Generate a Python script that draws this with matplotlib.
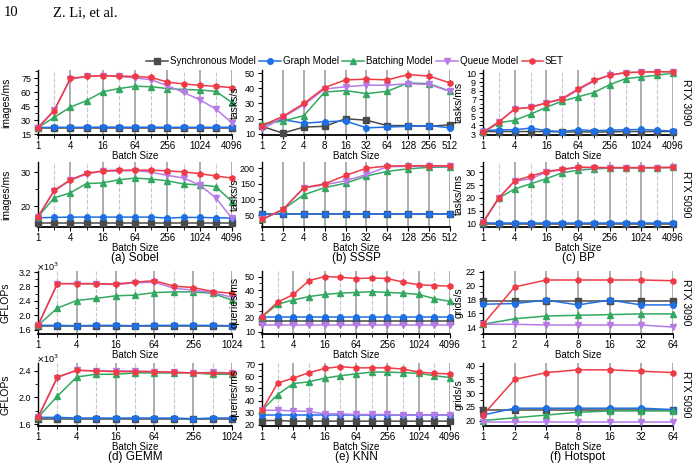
import matplotlib
matplotlib.use('Agg')
import matplotlib.pyplot as plt
from matplotlib.ticker import AutoMinorLocator, NullFormatter, FuncFormatter

plt.rcParams['font.family'] = ['Liberation Sans', 'DejaVu Sans']
plt.rcParams['font.size'] = 7

# --- data ---------------------------------------------------------------
models = ['Synchronous Model', 'Graph Model', 'Batching Model', 'Queue Model', 'SET']

batch_4096 = [1, 2, 4, 8, 16, 32, 64, 128, 256, 512, 1024, 2048, 4096]
batch_512 = [1, 2, 4, 8, 16, 32, 64, 128, 256, 512]
batch_1024 = [1, 2, 4, 8, 16, 32, 64, 128, 256, 512, 1024]
batch_64 = [1, 2, 4, 8, 16, 32, 64]

# (a) Sobel
sobel_3090 = {
    'Synchronous Model': [21.5] * 13,
    'Graph Model': [22, 22.3, 22.3, 22.3, 22.5, 22.5, 22.3, 22.5, 22.3, 22.3, 22.3, 22.3, 22.3],
    'Batching Model': [22, 33, 44, 51, 60.5, 64, 66.5, 66, 64, 63, 62.5, 61, 49],
    'Queue Model': [22, 41, 74, 77, 78, 77, 75.5, 73.5, 67, 60, 52, 42, 27],
    'SET': [22, 40, 75, 77, 78, 77.5, 77, 76, 71, 69, 67.5, 66.5, 65],
}
sobel_5090 = {
    'Synchronous Model': [15.3] * 13,
    'Graph Model': [16.7, 16.8, 16.9, 16.9, 16.9, 16.9, 16.9, 16.9, 16.6, 16.8, 16.8, 16.7, 16.6],
    'Batching Model': [17, 22.5, 24.0, 26.7, 26.9, 27.8, 28.3, 28.0, 27.5, 26.6, 26.3, 25.8, 21.4],
    'Queue Model': [17, 24.5, 27.6, 29.5, 30.3, 30.4, 30.5, 30.0, 29.1, 28.3, 26.3, 22.5, 16.5],
    'SET': [17, 24.7, 27.8, 29.7, 30.4, 30.6, 30.6, 30.6, 30.4, 30.1, 29.6, 28.9, 28.3],
}
# (b) SSSP
sssp_3090 = {
    'Synchronous Model': [15, 10.5, 14.5, 15, 20, 19, 15.5, 15.5, 15, 16],
    'Graph Model': [15.5, 19.5, 17, 18, 18.5, 14, 14.5, 15, 15.5, 14],
    'Batching Model': [16.5, 18.5, 22, 37.5, 38.5, 36.5, 38, 43.5, 43, 38],
    'Queue Model': [13, 21, 29, 39.5, 41, 42, 42, 43, 42.5, 38],
    'SET': [15.5, 21.5, 30, 40.5, 45.5, 46, 45.5, 49, 48, 43.5],
}
sssp_5090 = {
    'Synchronous Model': [54] * 10,
    'Graph Model': [55] * 10,
    'Batching Model': [36, 68, 115, 138, 152, 175, 190, 198, 203, 204],
    'Queue Model': [36, 67, 137, 147, 160, 180, 205, 206, 206, 206],
    'SET': [36, 68, 138, 150, 177, 200, 207, 208, 208, 208],
}
# (c) BP
bp_3090 = {
    'Synchronous Model': [3.3, 3.3, 3.3, 3.3, 3.3, 3.25, 3.25, 3.25, 3.25, 3.3, 3.3, 3.3, 3.3],
    'Graph Model': [3.4, 3.5, 3.5, 3.7, 3.4, 3.3, 3.5, 3.4, 3.45, 3.5, 3.55, 3.45, 3.35],
    'Batching Model': [3.2, 4.3, 4.6, 5.3, 6.1, 6.8, 7.3, 7.8, 8.7, 9.4, 9.6, 9.8, 10.05],
    'Queue Model': [3.2, 4.4, 5.9, 6.1, 6.6, 7.0, 8.1, 9.1, 9.8, 10.1, 10.15, 10.2, 10.2],
    'SET': [3.2, 4.4, 5.9, 6.1, 6.6, 7.1, 8.2, 9.2, 9.8, 10.1, 10.15, 10.2, 10.2],
}
bp_5090 = {
    'Synchronous Model': [10.0] * 13,
    'Graph Model': [10.3] * 13,
    'Batching Model': [10.5, 20, 23.5, 25.5, 27.5, 29.8, 30.8, 31.3, 31.6, 31.7, 31.7, 31.8, 31.9],
    'Queue Model': [10.5, 20, 26.5, 27.5, 30.0, 31.0, 31.8, 31.8, 31.8, 31.8, 31.8, 31.8, 31.9],
    'SET': [10.5, 20, 26.7, 28.5, 30.3, 31.2, 32.0, 31.9, 31.8, 31.8, 31.8, 31.8, 31.9],
}
# (d) GEMM (GFLOPs)
gemm_3090 = {
    'Synchronous Model': [1700] * 11,
    'Graph Model': [1720, 1720, 1710, 1720, 1720, 1710, 1720, 1720, 1720, 1720, 1710],
    'Batching Model': [1720, 2200, 2410, 2470, 2540, 2560, 2630, 2650, 2650, 2610, 2420],
    'Queue Model': [1720, 2880, 2870, 2870, 2850, 2900, 2920, 2750, 2700, 2630, 2500],
    'SET': [1720, 2880, 2880, 2880, 2870, 2920, 2960, 2810, 2770, 2660, 2610],
}
gemm_5090 = {
    'Synchronous Model': [1680] * 11,
    'Graph Model': [1700, 1700, 1690, 1690, 1690, 1690, 1690, 1690, 1680, 1690, 1690],
    'Batching Model': [1700, 2020, 2310, 2350, 2350, 2370, 2370, 2370, 2370, 2350, 2350],
    'Queue Model': [1700, 2300, 2410, 2400, 2400, 2400, 2390, 2380, 2370, 2380, 2370],
    'SET': [1700, 2310, 2410, 2400, 2390, 2390, 2390, 2380, 2370, 2370, 2370],
}
# (e) KNN
knn_3090 = {
    'Synchronous Model': [17.5] * 13,
    'Graph Model': [20.5] * 13,
    'Batching Model': [21, 30, 33, 35.5, 37, 38, 38.5, 39, 38.5, 38, 37, 34, 32],
    'Queue Model': [14.8] * 13,
    'SET': [21, 31.5, 37, 47, 50, 49.5, 48.5, 49, 48.5, 46, 44, 43.5, 43],
}
knn_5090 = {
    'Synchronous Model': [23.5, 23.5, 23, 23, 23, 23, 23, 23, 23, 23, 23, 23, 23],
    'Graph Model': [28] * 13,
    'Batching Model': [32, 45, 54, 55.5, 58.5, 60.5, 62, 63.5, 63.5, 63, 62.5, 60.5, 59],
    'Queue Model': [32, 32, 31.5, 31, 29, 29, 28.5, 28.5, 28.5, 28, 28, 28, 28],
    'SET': [32, 54.5, 58.5, 63, 66.5, 68, 67, 67, 67, 66, 63.5, 62.5, 62],
}
# (f) Hotspot
hotspot_3090 = {
    'Synchronous Model': [17.8] * 7,
    'Graph Model': [17.3, 17.4, 17.9, 17.2, 17.9, 17.2, 17.2],
    'Batching Model': [14.4, 15.2, 15.6, 15.7, 15.8, 15.9, 15.9],
    'Queue Model': [14.4, 14.4, 14.3, 14.3, 14.3, 14.3, 14.0],
    'SET': [14.4, 19.8, 20.8, 20.8, 20.8, 20.8, 20.7],
}
hotspot_5090 = {
    'Synchronous Model': [24] * 7,
    'Graph Model': [22, 24.5, 24.5, 24.5, 24.5, 24.5, 24],
    'Batching Model': [20, 21, 22, 23, 23.5, 23.5, 23.5],
    'Queue Model': [19.5] * 7,
    'SET': [22, 35, 37.5, 38.5, 38.5, 38, 37.5],
}

colors = {'Synchronous Model': '#4a4a4a', 'Graph Model': '#1f6fe5',
          'Batching Model': '#33a860', 'Queue Model': '#b77be6', 'SET': '#ef3b45'}
markers = {'Synchronous Model': 's', 'Graph Model': 'o', 'Batching Model': '^',
           'Queue Model': 'v', 'SET': 'h'}

ticks_pow4 = [1, 4, 16, 64, 256, 1024, 4096]
# panel settings: data, x, ylabel, ylim, yticks, labelled x ticks
panels = [
    [(sobel_3090, batch_4096, 'images/ms', (14, 84), [15, 30, 45, 60, 75], ticks_pow4),
     (sssp_3090, batch_512, 'tasks/s', (9.3, 52), [10, 20, 30, 40, 50], batch_512),
     (bp_3090, batch_4096, 'tasks/ms', (2.9, 10.4), [3, 4, 5, 6, 7, 8, 9, 10], ticks_pow4)],
    [(sobel_5090, batch_4096, 'images/ms', (14, 33), [20, 30], ticks_pow4),
     (sssp_5090, batch_512, 'tasks/s', (12, 220), [50, 100, 150, 200], batch_512),
     (bp_5090, batch_4096, 'tasks/ms', (8.7, 34), [10, 15, 20, 25, 30], ticks_pow4)],
    [(gemm_3090, batch_1024, 'GFLOPs', (1480, 3230), [1600, 2000, 2400, 2800, 3200], ticks_pow4[:6]),
     (knn_3090, batch_4096, 'queries/ms', (8.4, 54), [10, 20, 30, 40, 50], ticks_pow4),
     (hotspot_3090, batch_64, 'grids/s', (13.0, 22.1), [14, 16, 18, 20, 22], batch_64)],
    [(gemm_5090, batch_1024, 'GFLOPs', (1570, 2520), [1600, 2000, 2400], ticks_pow4[:6]),
     (knn_5090, batch_4096, 'queries/ms', (19, 71), [20, 30, 40, 50, 60, 70], ticks_pow4),
     (hotspot_5090, batch_64, 'grids/s', (18, 41), [20, 25, 30, 35, 40], batch_64)],
]
captions = ['(a) Sobel', '(b) SSSP', '(c) BP', '(d) GEMM', '(e) KNN', '(f) Hotspot']
gpus = ['RTX 3090', 'RTX 5090', 'RTX 3090', 'RTX 5090']

# --- layout (pixels) ------------------------------------------------------
W, H = 696, 466
cols_px = [(38, 232), (262, 450), (483, 673)]
rows_px = [(70, 135), (162, 227), (271, 334), (363, 426)]
ylabel_right_px = [11, 240, 464]

fig = plt.figure(figsize=(W / 100, H / 100), dpi=100)

fig.text(4 / W, 1 - 13 / H, '10', family='Liberation Serif', fontsize=10.5, va='center')
fig.text(53 / W, 1 - 13 / H, 'Z. Li, et al.', family='Liberation Serif', fontsize=10.5, va='center')

axes = []
for r, row in enumerate(panels):
    y0, y1 = rows_px[r]
    for c, (data, xs, ylab, ylim, yticks, xlab_ticks) in enumerate(row):
        x0, x1 = cols_px[c]
        ax = fig.add_axes([x0 / W, 1 - y1 / H, (x1 - x0) / W, (y1 - y0) / H])
        axes.append(ax)
        for m in models:
            ax.plot(xs, data[m], color=colors[m], marker=markers[m], markersize=4,
                    lw=1.1, clip_on=False, zorder=3, label=m)
        ax.set_xscale('log', base=2)
        ax.set_xlim(xs[0], xs[-1])
        ax.set_xticks(xlab_ticks)
        ax.set_xticklabels([str(v) for v in xlab_ticks])
        minor = [v for v in xs if v not in xlab_ticks]
        ax.set_xticks(minor, minor=True)
        ax.xaxis.set_minor_formatter(NullFormatter())
        ax.xaxis.grid(True, which='major', color='#a0a0a0', lw=1.2, zorder=0)
        ax.xaxis.grid(True, which='minor', color='#c8c8c8', lw=0.8, ls='--', zorder=0)
        ax.set_ylim(*ylim)
        ax.set_yticks(yticks)
        ax.yaxis.set_minor_locator(AutoMinorLocator(2))
        if ylab == 'GFLOPs':
            ax.yaxis.set_major_formatter(FuncFormatter(lambda v, _: f'{v / 1000:.1f}'))
            fig.text((x0 + 10) / W, 1 - (y0 - 4) / H, r'$\times$10$^3$', fontsize=6.5,
                     ha='center', va='center')
        ax.set_ylabel(ylab, fontsize=7.5)
        ax.yaxis.set_label_coords((ylabel_right_px[c] - x0) / (x1 - x0), 0.5)
        ax.set_xlabel('Batch Size', labelpad=-0.5, fontsize=7)
        for s in ['top', 'right']:
            ax.spines[s].set_visible(False)
        ax.spines['left'].set_linewidth(1.0)
        ax.spines['bottom'].set_linewidth(1.3)
        ax.tick_params(axis='both', which='major', length=3, width=0.8, pad=2, labelsize=6.5)
        ax.tick_params(axis='x', which='major', pad=1.5, labelsize=7)
        ax.tick_params(axis='both', which='minor', length=2, width=0.6)
        if c == 2:
            fig.text(686 / W, 1 - (y0 + y1) / 2 / H, gpus[r], rotation=270,
                     va='center', ha='center', fontsize=7.5)
        if r in (1, 3):
            fig.text((x0 + x1) / 2 / W, 1 - (y1 + 31) / H, captions[(r // 2) * 3 + c],
                     ha='center', va='center', fontsize=8.5)

handles, labels = axes[0].get_legend_handles_labels()
fig.legend(handles, labels, loc='center', bbox_to_anchor=(355 / W, 1 - 61 / H), ncol=5,
           frameon=False, fontsize=7, handlelength=2.2, handletextpad=0.2,
           columnspacing=0.4, borderaxespad=0)

fig.savefig('out.png', dpi=100)
